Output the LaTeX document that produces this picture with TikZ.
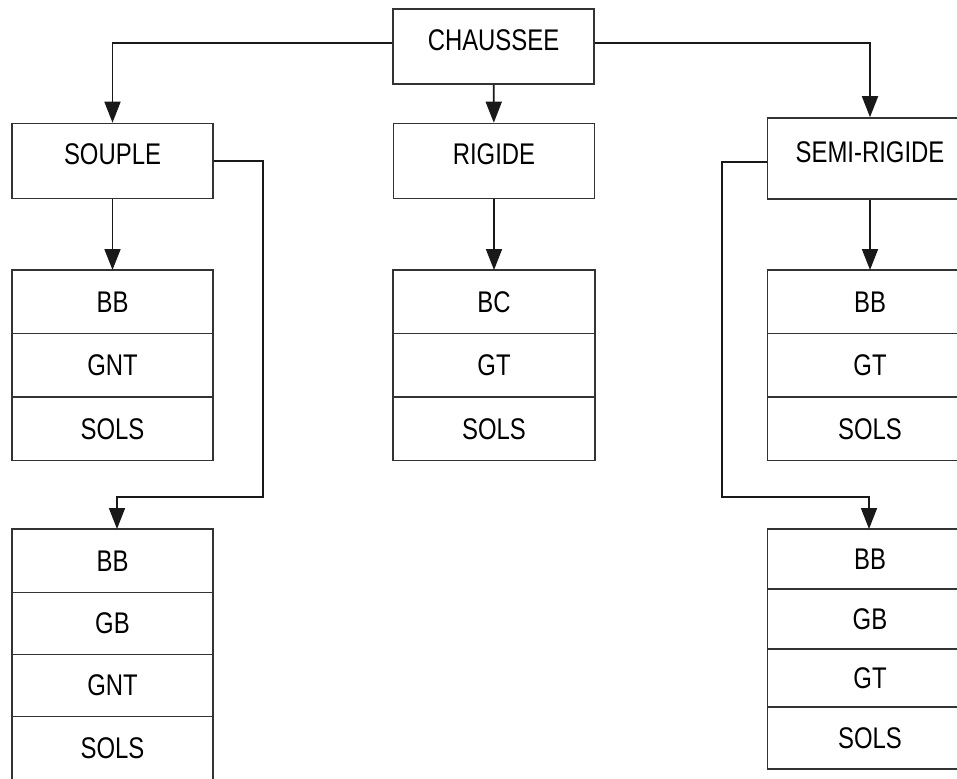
\documentclass[tikz,border=0pt]{standalone}
\usepackage{fontspec}
\setmainfont{Liberation Sans}[FakeStretch=0.8]
\usetikzlibrary{positioning,arrows.meta}

\begin{document}
\begin{tikzpicture}[
    box/.style={draw=black!80, line width=0.9pt, minimum width=4.02cm,
      minimum height=1.5cm, text height=0.43cm, text depth=0.28cm,
      font=\fontsize{17}{20}\selectfont},
    cell/.style={draw=black!80, line width=0.9pt, minimum width=4.02cm,
      minimum height=1.27cm, outer sep=0pt, font=\fontsize{17}{20}\selectfont},
    link/.style={draw=black!90, line width=1pt, -{Triangle[length=4.2mm,width=3.2mm]}},
  ]
  \useasboundingbox (0,0) rectangle (19.14,-15.56);
  \clip (0,0) rectangle (19.14,-15.56);

  \node[box] (chaussee) at (9.87,-0.93) {CHAUSSEE};
  \node[box] (souple) at (2.25,-3.22) {SOUPLE};
  \node[box] (rigide) at (9.88,-3.22) {RIGIDE};
  \node[box, minimum width=4.1cm, minimum height=1.62cm] (semi) at (17.4,-3.17) {SEMI-RIGIDE};

  % souple
  \node[cell, anchor=north] (sa1) at (2.25,-5.4) {BB};
  \node[cell, below=0pt of sa1] (sa2) {GNT};
  \node[cell, below=0pt of sa2] (sa3) {SOLS};
  \node[cell, anchor=north] (sb1) at (2.25,-10.58) {BB};
  \node[cell, below=0pt of sb1, minimum height=1.24cm] (sb2) {GB};
  \node[cell, below=0pt of sb2, minimum height=1.24cm] (sb3) {GNT};
  \node[cell, below=0pt of sb3] (sb4) {SOLS};

  % rigide
  \node[cell, anchor=north, minimum width=4.04cm] (ra1) at (9.88,-5.4) {BC};
  \node[cell, below=0pt of ra1, minimum width=4.04cm] (ra2) {GT};
  \node[cell, below=0pt of ra2, minimum width=4.04cm] (ra3) {SOLS};

  % semi-rigide
  \node[cell, anchor=north, minimum width=4.1cm] (ma1) at (17.4,-5.4) {BB};
  \node[cell, below=0pt of ma1, minimum width=4.1cm] (ma2) {GT};
  \node[cell, below=0pt of ma2, minimum width=4.1cm] (ma3) {SOLS};
  \node[cell, anchor=north, minimum width=4.1cm, minimum height=1.2cm] (mb1) at (17.4,-10.58) {BB};
  \node[cell, below=0pt of mb1, minimum width=4.1cm, minimum height=1.2cm] (mb2) {GB};
  \node[cell, below=0pt of mb2, minimum width=4.1cm, minimum height=1.16cm] (mb3) {GT};
  \node[cell, below=0pt of mb3, minimum width=4.1cm, minimum height=1.24cm] (mb4) {SOLS};

  \coordinate (sbend) at (5.26,-9.94);
  \coordinate (mbend) at (14.44,-9.94);

  \draw[link] ([yshift=0.07cm]chaussee.west) -| (souple.north);
  \draw[link] (chaussee) -- (rigide);
  \draw[link] ([yshift=0.07cm]chaussee.east) -| (semi.north);
  \draw[link] (souple) -- (sa1);
  \draw[link] (rigide) -- (ra1);
  \draw[link] (semi) -- (ma1);
  \draw[link] (souple.east) -| (sbend) -| ([xshift=0.09cm]sb1.north);
  \draw[link] ([yshift=-0.07cm]semi.west) -| (mbend) -| ([xshift=-0.02cm]mb1.north);
\end{tikzpicture}
\end{document}
